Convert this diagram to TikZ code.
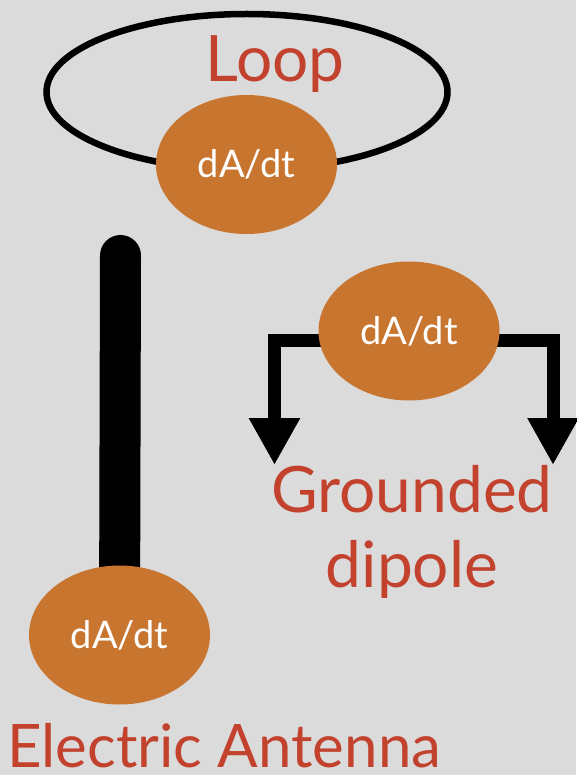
\documentclass[tikz,border=0pt]{standalone}
\usepackage{fontspec}
\setmainfont{Lato}
\usetikzlibrary{shapes.geometric,arrows.meta}
\definecolor{slidebg}{RGB}{219,219,220}
\definecolor{srcorange}{RGB}{200,117,47}
\definecolor{labelred}{RGB}{195,66,45}
\tikzset{
  source/.style={ellipse,fill=srcorange,text=white,minimum width=181pt,
    minimum height=139pt,inner sep=0pt,font=\fontsize{38}{42}\selectfont},
  title/.style={text=labelred,inner sep=0pt,anchor=base,text depth=0pt,
    font=\fontsize{64}{75}\selectfont},
  feed/.style={line width=13pt,-{Triangle[length=47pt,width=48pt]}},
  rod/.style={line width=41pt,line cap=round}
}
\begin{document}
\begin{tikzpicture}[x={(1pt,0)},y={(0,-1pt)}]
  \fill[slidebg] (0,0) rectangle (576,775);
  \useasboundingbox (0,0) rectangle (576,775);
  % loop antenna
  \node[draw,ellipse,line width=6.5pt,minimum width=401pt,minimum height=156pt] (loop) at (247,92) {};
  \node[source] (loopsrc) at (246.5,164.5) {dA/dt};
  \node[title] (looplabel) at (275,82) {Loop};
  % electric antenna
  \coordinate (rodtop) at (120.5,255.5);
  \coordinate (antc) at (119.5,635);
  \draw[rod] (rodtop) -- (antc);
  \node[source] (antsrc) at (antc) {dA/dt};
  \node[title,anchor=base west,font=\fontsize{60}{66}\selectfont] (antlabel) at (7,767) {Electric Antenna};
  % grounded dipole
  \coordinate (dipc) at (409,331);
  \foreach \x in {274.5,553}
  { \draw[feed] (dipc |- 0,340) -- (\x,340) -- (\x,465); }
  \node[source] (dipsrc) at (dipc) {dA/dt};
  \node[title] (grounded) at (412,512) {Grounded};
  \node[title] (dipole) at (412,587) {dipole};
\end{tikzpicture}
\end{document}
